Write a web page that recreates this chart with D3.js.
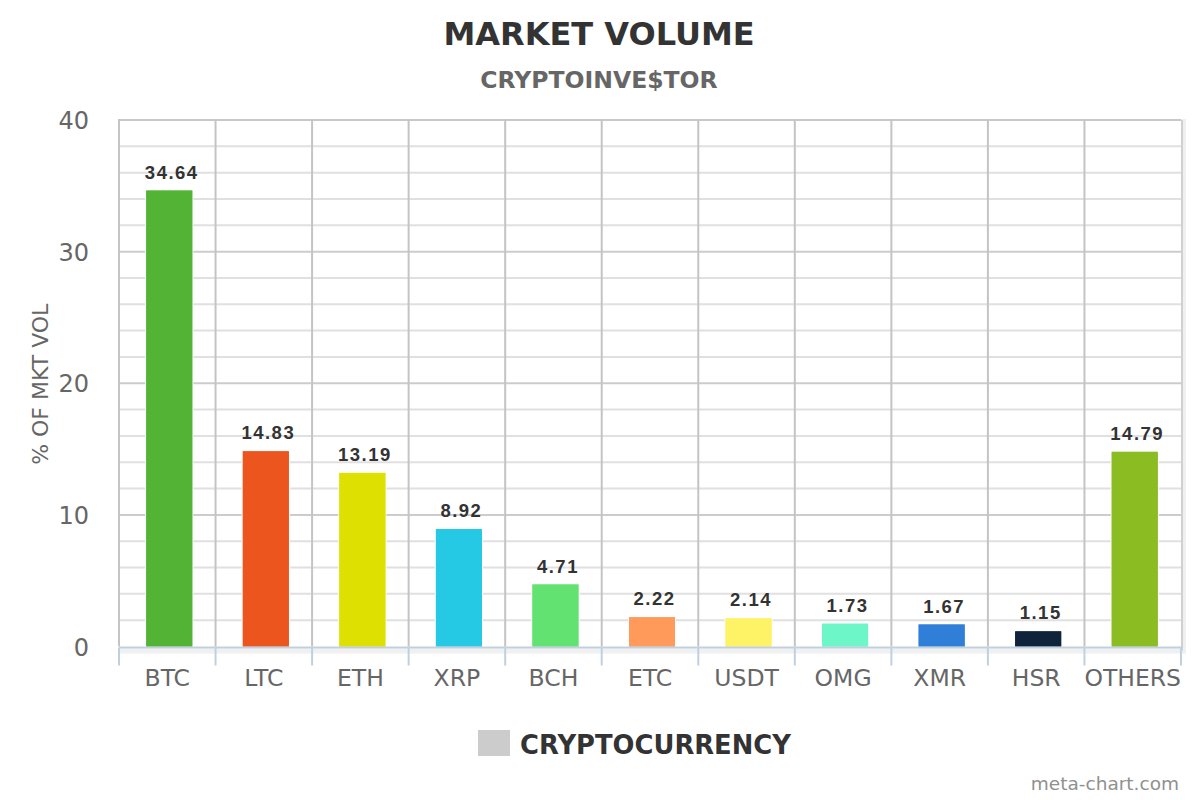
<!DOCTYPE html>
<html><head><meta charset="utf-8">
<script src="https://cdn.jsdelivr.net/npm/d3@7"></script>
<style>body{margin:0;background:#fff}svg{display:block}</style>
</head><body>
<script>
const categories = ["BTC","LTC","ETH","XRP","BCH","ETC","USDT","OMG","XMR","HSR","OTHERS"];
const values = [34.64,14.83,13.19,8.92,4.71,2.22,2.14,1.73,1.67,1.15,14.79];
const colors = ["#52b334","#ec561e","#dde000","#26c9e4","#62e271","#ff9a5a","#fef266","#6df7c8","#2f7ed8","#0f233b","#8bbc21"];
const yTicks = [0,10,20,30,40];
const minorTicks = d3.range(0,41,2);
const title = "MARKET VOLUME", subtitle = "CRYPTOINVE$TOR";
const yTitle = "% OF MKT VOL", legendLabel = "CRYPTOCURRENCY", credit = "meta-chart.com";

const W=1200,H=800, L=119, R=1181, T=120, B=646.5;
const svg = d3.select("body").append("svg").attr("width",W).attr("height",H);
const font = "DejaVu Sans, sans-serif";

const x = d3.scaleBand().domain(categories).range([L,R]).padding(0);
const y = d3.scaleLinear().domain([0,40]).range([B,T]);

// shadows
svg.append("rect").attr("x",L).attr("y",B+2).attr("width",R-L+4).attr("height",5).attr("fill","#f0f0f0");
svg.append("rect").attr("x",R).attr("y",T-1).attr("width",5).attr("height",B-T+8).attr("fill","#f0f0f0");
svg.append("rect").attr("x",R).attr("y",T).attr("width",2).attr("height",B-T+4).attr("fill","#d0d0d0");

// minor gridlines
svg.append("g").selectAll("line").data(minorTicks.filter(d=>d%10!==0)).join("line")
  .attr("x1",L).attr("x2",R).attr("y1",d=>y(d)).attr("y2",d=>y(d))
  .attr("stroke","#e0e0e0").attr("stroke-width",2);
// major gridlines
svg.append("g").selectAll("line").data(yTicks.filter(d=>d>0)).join("line")
  .attr("x1",L).attr("x2",R).attr("y1",d=>y(d)).attr("y2",d=>y(d))
  .attr("stroke",d=>d===40?"#c8c8c8":"#cccccc").attr("stroke-width",2);
// vertical grid
svg.append("g").selectAll("line").data(categories).join("line")
  .attr("x1",d=>x(d)).attr("x2",d=>x(d)).attr("y1",T-1).attr("y2",B)
  .attr("stroke","#c4c4c4").attr("stroke-width",2);

// bars
const bw = 46;
svg.append("g").selectAll("rect").data(values).join("rect")
  .attr("x",(d,i)=>x(categories[i])+x.bandwidth()/2-bw/2+2)
  .attr("y",d=>y(d)).attr("width",bw).attr("height",d=>B-y(d))
  .attr("fill",(d,i)=>colors[i]).attr("stroke","#fff").attr("stroke-width",2).attr("paint-order","stroke");
svg.append("g").selectAll("rect").data(values).join("rect")
  .attr("x",(d,i)=>x(categories[i])+x.bandwidth()/2-bw/2+2)
  .attr("y",d=>y(d)).attr("width",bw).attr("height",d=>B-y(d))
  .attr("fill",(d,i)=>colors[i]);

// value labels
svg.append("g").selectAll("text").data(values).join("text")
  .attr("x",(d,i)=>x(categories[i])+x.bandwidth()/2+4.5)
  .attr("y",d=>y(d)-12)
  .attr("text-anchor","middle").attr("font-family","Liberation Sans, Arial, sans-serif")
  .attr("font-weight","bold").attr("font-size",18.5).attr("letter-spacing",1.5).attr("fill","#333")
  .text(d=>d.toFixed(2));

// x axis
const xa = svg.append("g").attr("transform",`translate(0,${B+1})`)
  .call(d3.axisBottom(x).tickSize(0).tickSizeOuter(0));
xa.select(".domain").remove();
xa.append("line").attr("x1",L).attr("x2",R+2).attr("y1",0).attr("y2",0).attr("stroke","#c0d0e0").attr("stroke-width",2);
xa.selectAll(".bt").data(categories.concat(["_end"])).join("line").attr("class","bt")
  .attr("x1",(d,i)=>i<categories.length?x(d):R).attr("x2",(d,i)=>i<categories.length?x(d):R)
  .attr("y1",0).attr("y2",18).attr("stroke","#c0d0e0").attr("stroke-width",2);
xa.selectAll(".tick text").attr("font-family",font).attr("font-size",23.5).attr("fill","#666").attr("dy",0).attr("y",38.5);

// y axis
const ya = svg.append("g").attr("transform",`translate(${L},0)`)
  .call(d3.axisLeft(y).tickValues(yTicks).tickSize(0).tickFormat(d3.format("d")));
ya.select(".domain").remove();
ya.selectAll(".tick text").attr("font-family",font).attr("font-size",24).attr("fill","#666").attr("x",-30).attr("dy","0.36em");

// y title
svg.append("text").attr("transform",`translate(48,${(T+B)/2+1}) rotate(-90)`)
  .attr("text-anchor","middle").attr("font-family",font).attr("font-size",22).attr("fill","#666").text(yTitle);

// titles
svg.append("text").attr("x",599).attr("y",45).attr("text-anchor","middle").attr("font-family",font)
  .attr("font-weight","bold").attr("font-size",32).attr("fill","#333").text(title);
svg.append("text").attr("x",599).attr("y",88).attr("text-anchor","middle").attr("font-family",font)
  .attr("font-weight","bold").attr("font-size",23.5).attr("fill","#666").text(subtitle);

// legend
svg.append("rect").attr("x",478).attr("y",730).attr("width",32).attr("height",26).attr("fill","#cccccc");
svg.append("text").attr("x",520).attr("y",754).attr("font-family",font).attr("font-weight","bold")
  .attr("font-size",25.8).attr("fill","#333").text(legendLabel);

// credit
svg.append("text").attr("x",1179).attr("y",790).attr("text-anchor","end").attr("font-family",font)
  .attr("font-size",18.5).attr("fill","#909090").text(credit);
</script>
</body></html>
